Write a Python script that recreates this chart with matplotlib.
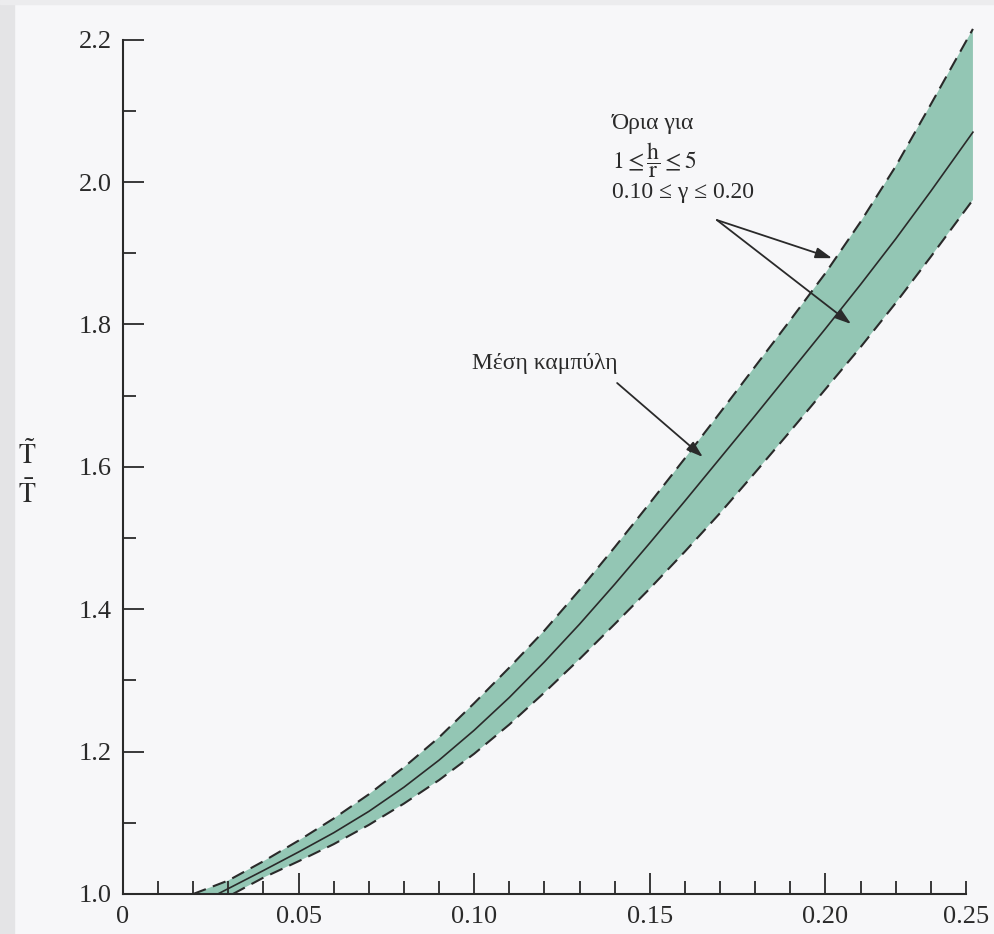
import numpy as np
import matplotlib
matplotlib.use("Agg")
import matplotlib.pyplot as plt
from matplotlib.ticker import MultipleLocator
from matplotlib.patches import Rectangle

# values
x_mean = [0.027, 0.04, 0.05, 0.06, 0.07, 0.08, 0.09, 0.10, 0.11, 0.12, 0.13,
          0.14, 0.15, 0.16, 0.17, 0.18, 0.19, 0.20, 0.21, 0.22, 0.23, 0.242]
y_mean = [1.000, 1.033, 1.059, 1.086, 1.116, 1.150, 1.188, 1.230, 1.276, 1.326, 1.379,
          1.435, 1.493, 1.552, 1.612, 1.672, 1.733, 1.794, 1.856, 1.920, 1.987, 2.070]

x_upper = [0.020, 0.03, 0.04, 0.05, 0.06, 0.07, 0.08, 0.09, 0.10, 0.11, 0.12, 0.13,
           0.14, 0.15, 0.16, 0.17, 0.18, 0.19, 0.20, 0.21, 0.22, 0.23, 0.242]
y_upper = [1.000, 1.019, 1.046, 1.075, 1.106, 1.140, 1.178, 1.220, 1.268, 1.318, 1.370, 1.427,
           1.487, 1.549, 1.612, 1.676, 1.741, 1.806, 1.872, 1.944, 2.022, 2.109, 2.215]

x_lower = [0.0313, 0.04, 0.05, 0.06, 0.07, 0.08, 0.09, 0.10, 0.11, 0.12, 0.13,
           0.14, 0.15, 0.16, 0.17, 0.18, 0.19, 0.20, 0.21, 0.22, 0.23, 0.242]
y_lower = [1.000, 1.023, 1.046, 1.070, 1.097, 1.127, 1.160, 1.197, 1.238, 1.283, 1.330,
           1.379, 1.429, 1.481, 1.535, 1.592, 1.650, 1.709, 1.768, 1.830, 1.895, 1.975]

yticks = [1.0, 1.2, 1.4, 1.6, 1.8, 2.0, 2.2]
ytick_labels = ['1.0', '1.2', '1.4', '1.6', '1.8', '2.0', '2.2']
xticks = [0, 0.05, 0.10, 0.15, 0.20, 0.24]
xtick_labels = ['0', '0.05', '0.10', '0.15', '0.20', '0.25']

plt.rcParams['font.family'] = ['Liberation Serif', 'DejaVu Serif']
plt.rcParams['mathtext.fontset'] = 'stix'

ink = '#2a2a2a'
band = '#93c6b4'

fig = plt.figure(figsize=(9.94, 9.34), dpi=100)
fig.patch.set_facecolor('#f7f7f9')
# page edge of the scan
fig.patches.append(Rectangle((0, 0), 14 / 994, 1, transform=fig.transFigure,
                             color='#e4e4e6', zorder=0))
fig.patches.append(Rectangle((0, 1 - 4 / 934), 1, 4 / 934, transform=fig.transFigure,
                             color='#ececee', zorder=0))

ax = fig.add_axes([0.1237, 0.04283, 0.8657, 0.930])
ax.set_facecolor('none')

# shaded band between the two bounds
ax.fill(np.concatenate([x_upper, x_lower[::-1]]),
        np.concatenate([y_upper, y_lower[::-1]]),
        color=band, lw=0, zorder=1)

ax.plot(x_upper, y_upper, color=ink, lw=1.5, linestyle=(0, (6.5, 3.6)), zorder=3)
ax.plot(x_lower, y_lower, color=ink, lw=1.5, linestyle=(0, (6.5, 3.6)), zorder=3)
ax.plot(x_mean, y_mean, color=ink, lw=1.2, zorder=3)

ax.set_xlim(0, 0.245)
ax.set_ylim(1.0, 2.22)

for s in ['top', 'right']:
    ax.spines[s].set_visible(False)
ax.spines['left'].set_bounds(1.0, 2.2)
ax.spines['bottom'].set_bounds(0, 0.24)
for s in ['left', 'bottom']:
    ax.spines[s].set_linewidth(1.5)
    ax.spines[s].set_color(ink)

ax.set_xticks(xticks)
ax.set_xticklabels(xtick_labels)
ax.set_yticks(yticks)
ax.set_yticklabels(ytick_labels)
ax.xaxis.set_minor_locator(MultipleLocator(0.01))
ax.yaxis.set_minor_locator(MultipleLocator(0.1))
ax.tick_params(which='both', direction='in', color=ink, width=1.3, labelcolor=ink,
               labelsize=19)
ax.tick_params(which='major', length=15)
ax.tick_params(which='minor', length=9.5)
ax.tick_params(axis='x', pad=9)
ax.tick_params(axis='y', pad=8)
# the end tick of the x axis is a short one in the original
last = ax.xaxis.get_major_ticks()[-1]
last.tick1line.set_markersize(9.5)

# y label: T tilde over T bar
fig.text(27 / 994, 1 - 455 / 934, r'$\tilde{\mathrm{T}}$', fontsize=20, color=ink,
         ha='center', va='center')
fig.text(27 / 994, 1 - 495 / 934, r'$\bar{\mathrm{T}}$', fontsize=20, color=ink,
         ha='center', va='center')

# annotations
ax.text(0.1392, 2.0815, 'Όρια για', fontsize=17, color=ink, ha='left', va='center')
ax.text(0.1392, 2.0309, r'$1 \leq \dfrac{\mathrm{h}}{\mathrm{r}} \leq 5$', fontsize=17,
        color=ink, ha='left', va='center')
ax.text(0.1392, 1.9846, '0.10 ≤ γ ≤ 0.20', fontsize=17, color=ink, ha='left', va='center')

arrow = dict(arrowstyle='-|>,head_length=0.55,head_width=0.18', lw=1.3, color=ink,
             shrinkA=0, shrinkB=0, mutation_scale=18)
ax.annotate('', xy=(0.2019, 1.893), xytext=(0.1691, 1.9466), arrowprops=arrow, zorder=4)
ax.annotate('', xy=(0.2073, 1.8006), xytext=(0.1691, 1.9466), arrowprops=arrow, zorder=4)

ax.text(0.1409, 1.745, 'Μέση καμπύλη', fontsize=17, color=ink, ha='right', va='center')
ax.annotate('', xy=(0.1651, 1.6138), xytext=(0.1407, 1.7177), arrowprops=arrow, zorder=4)

fig.savefig('out.png', dpi=100, facecolor=fig.get_facecolor())
